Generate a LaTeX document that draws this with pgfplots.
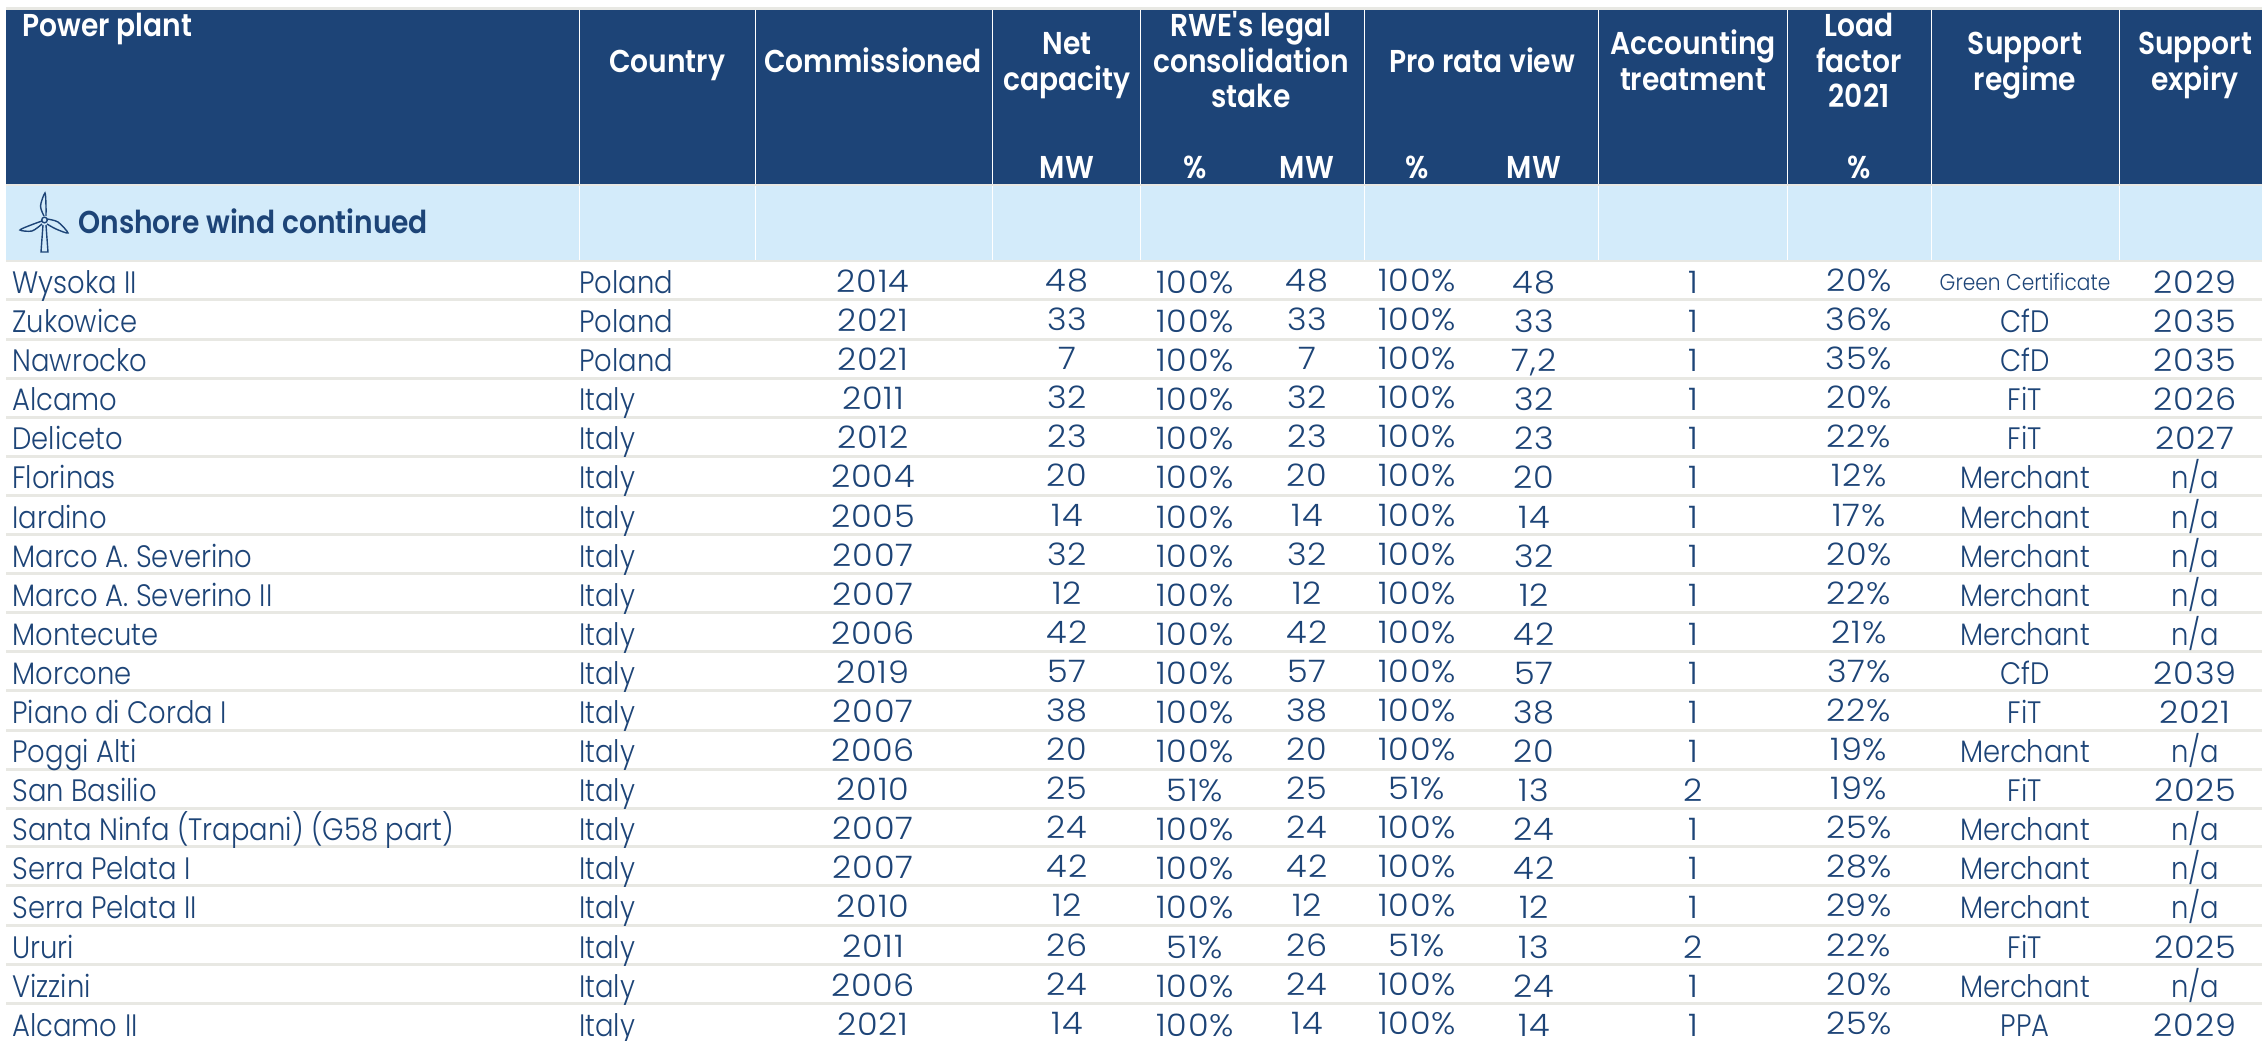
\documentclass[border=0pt]{standalone}
\usepackage{fontspec}
\setmainfont{Poppins Light}[FakeStretch=0.885]
\newfontfamily\hdfont{Poppins SemiBold}[FakeStretch=0.89]
\newfontfamily\numfont{Poppins Light}[FakeStretch=1.08,LetterSpace=2.5]
\usepackage{pgfplots}
\usepackage{pgfplotstable}
\pgfplotsset{compat=1.18}

\definecolor{navy}{HTML}{1D4477}
\definecolor{pale}{HTML}{D3EBFA}
\definecolor{rule}{HTML}{E8E8E3}

% y is the text baseline of the row, in pixels from the top
\pgfplotstableread[col sep=semicolon]{
y;plant;country;year;net;stake;stakemw;pro;promw;acc;load;regime;expiry
293;Wysoka II;Poland;2014;48;100;48;100;48;1;20;\gc;2029
332;Zukowice;Poland;2021;33;100;33;100;33;1;36;CfD;2035
371;Nawrocko;Poland;2021;7;100;7;100;7,2;1;35;CfD;2035
410;Alcamo;Italy;2011;32;100;32;100;32;1;20;FiT;2026
449;Deliceto;Italy;2012;23;100;23;100;23;1;22;FiT;2027
488;Florinas;Italy;2004;20;100;20;100;20;1;12;Merchant;\na
528;Iardino;Italy;2005;14;100;14;100;14;1;17;Merchant;\na
567;Marco A. Severino;Italy;2007;32;100;32;100;32;1;20;Merchant;\na
606;Marco A. Severino II;Italy;2007;12;100;12;100;12;1;22;Merchant;\na
645;Montecute;Italy;2006;42;100;42;100;42;1;21;Merchant;\na
684;Morcone;Italy;2019;57;100;57;100;57;1;37;CfD;2039
723;Piano di Corda I;Italy;2007;38;100;38;100;38;1;22;FiT;2021
762;Poggi Alti;Italy;2006;20;100;20;100;20;1;19;Merchant;\na
801;San Basilio;Italy;2010;25;51;25;51;13;2;19;FiT;2025
840;Santa Ninfa (Trapani) (G58 part);Italy;2007;24;100;24;100;24;1;25;Merchant;\na
879;Serra Pelata I;Italy;2007;42;100;42;100;42;1;28;Merchant;\na
918;Serra Pelata II;Italy;2010;12;100;12;100;12;1;29;Merchant;\na
958;Ururi;Italy;2011;26;51;26;51;13;2;22;FiT;2025
997;Vizzini;Italy;2006;24;100;24;100;24;1;20;Merchant;\na
1036;Alcamo II;Italy;2021;14;100;14;100;14;1;25;PPA;2029
}\rows

\newcommand{\gc}{\raisebox{1.5pt}{\fontsize{11.4}{12}\selectfont Green Certificate}}
\newcommand{\na}{{\normalfont n/a}}
\newcommand{\bodyfont}{\fontsize{15.5}{15.5}\selectfont}
\newcommand{\headfont}{\hdfont\fontsize{15.8}{15.8}\selectfont}

% x, y shift, column, anchor, text of the node
\newcommand{\col}[5]{\addplot[only marks, mark=none, text=navy,
    nodes near coords={#5},
    every node near coord/.append style={anchor=#4, inner sep=0pt, font=\bodyfont, text=navy}]
    table[x expr=#1, y expr=\thisrow{y}+#2, meta=#3] {\rows};}

\begin{document}
\begin{tikzpicture}
\path[use as bounding box, clip] (0,0) rectangle (1131pt,520pt);
\begin{axis}[
    at={(0,0)}, anchor=south west,
    scale only axis, width=1131pt, height=520pt,
    xmin=0, xmax=2262, ymin=0, ymax=1040, y dir=reverse,
    hide axis, clip=false,
    point meta=explicit symbolic,
]
% bands
\addplot[fill=rule, draw=none] coordinates {(6,7) (2262,7) (2262,262) (6,262)} --cycle;
\addplot[fill=navy, draw=none] coordinates {(6,10) (2262,10) (2262,184) (6,184)} --cycle;
\addplot[fill=pale, draw=none] coordinates {(6,186) (2262,186) (2262,260) (6,260)} --cycle;

% row rules
\addplot[rule, line width=1.5pt, forget plot] coordinates {(6,299) (2262,299)};
\addplot[rule, line width=1.5pt, forget plot] coordinates {(6,339) (2262,339)};
\addplot[rule, line width=1.5pt, forget plot] coordinates {(6,378) (2262,378)};
\addplot[rule, line width=1.5pt, forget plot] coordinates {(6,417) (2262,417)};
\addplot[rule, line width=1.5pt, forget plot] coordinates {(6,456) (2262,456)};
\addplot[rule, line width=1.5pt, forget plot] coordinates {(6,495) (2262,495)};
\addplot[rule, line width=1.5pt, forget plot] coordinates {(6,534) (2262,534)};
\addplot[rule, line width=1.5pt, forget plot] coordinates {(6,573) (2262,573)};
\addplot[rule, line width=1.5pt, forget plot] coordinates {(6,612) (2262,612)};
\addplot[rule, line width=1.5pt, forget plot] coordinates {(6,651) (2262,651)};
\addplot[rule, line width=1.5pt, forget plot] coordinates {(6,690) (2262,690)};
\addplot[rule, line width=1.5pt, forget plot] coordinates {(6,730) (2262,730)};
\addplot[rule, line width=1.5pt, forget plot] coordinates {(6,769) (2262,769)};
\addplot[rule, line width=1.5pt, forget plot] coordinates {(6,808) (2262,808)};
\addplot[rule, line width=1.5pt, forget plot] coordinates {(6,846) (2262,846)};
\addplot[rule, line width=1.5pt, forget plot] coordinates {(6,885) (2262,885)};
\addplot[rule, line width=1.5pt, forget plot] coordinates {(6,925) (2262,925)};
\addplot[rule, line width=1.5pt, forget plot] coordinates {(6,964) (2262,964)};
\addplot[rule, line width=1.5pt, forget plot] coordinates {(6,1003) (2262,1003)};

% column rules in the header and the section row
\addplot[white, line width=0.5pt] coordinates {(579,10) (579,184)};
\addplot[white, line width=0.5pt] coordinates {(755,10) (755,184)};
\addplot[white, line width=0.5pt] coordinates {(992,10) (992,184)};
\addplot[white, line width=0.5pt] coordinates {(1140,10) (1140,184)};
\addplot[white, line width=0.5pt] coordinates {(1364,10) (1364,184)};
\addplot[white, line width=0.5pt] coordinates {(1598,10) (1598,184)};
\addplot[white, line width=0.5pt] coordinates {(1787,10) (1787,184)};
\addplot[white, line width=0.5pt] coordinates {(1931,10) (1931,184)};
\addplot[white, line width=0.5pt] coordinates {(2119,10) (2119,184)};
\addplot[white, line width=0.5pt] coordinates {(579,186) (579,260)};
\addplot[white, line width=0.5pt] coordinates {(755,186) (755,260)};
\addplot[white, line width=0.5pt] coordinates {(992,186) (992,260)};
\addplot[white, line width=0.5pt] coordinates {(1140,186) (1140,260)};
\addplot[white, line width=0.5pt] coordinates {(1364,186) (1364,260)};
\addplot[white, line width=0.5pt] coordinates {(1598,186) (1598,260)};
\addplot[white, line width=0.5pt] coordinates {(1787,186) (1787,260)};
\addplot[white, line width=0.5pt] coordinates {(1931,186) (1931,260)};
\addplot[white, line width=0.5pt] coordinates {(2119,186) (2119,260)};

% header text
\addplot[only marks, mark=none, nodes near coords,
    every node near coord/.append style={anchor=base west, inner sep=0pt, font=\headfont, text=white}]
    coordinates {(22,36) [Power plant]};
\addplot[only marks, mark=none, nodes near coords,
    every node near coord/.append style={anchor=base, inner sep=0pt, font=\headfont, text=white}]
    coordinates {
    (667,72) [Country]
    (873,72) [Commissioned]
    (1067,54) [Net]
    (1067,90) [capacity]
    (1067,178) [MW]
    (1251,36) [RWE's legal]
    (1251,72) [consolidation]
    (1251,107) [stake]
    (1195,178) [\%]
    (1307,178) [MW]
    (1482,72) [Pro rata view]
    (1417,178) [\%]
    (1534,178) [MW]
    (1693,54) [Accounting]
    (1693,90) [treatment]
    (1859,36) [Load]
    (1859,72) [factor]
    (1859,107) [2021]
    (1859,178) [\%]
    (2025,54) [Support]
    (2025,90) [regime]
    (2195,54) [Support]
    (2195,90) [expiry]
    };

% section row
\addplot[only marks, mark=none, nodes near coords,
    every node near coord/.append style={anchor=base west, inner sep=0pt, font=\headfont, text=navy}]
    coordinates {(78,233) [Onshore wind continued]};
% turbine icon
\addplot[navy, line width=0.7pt, smooth] coordinates {(44,216) (40.5,206) (45,193) (46,206) (46,216)};
\addplot[navy, line width=0.7pt, smooth] coordinates {(42,221) (31,225) (20,230) (32,231) (42,224)};
\addplot[navy, line width=0.7pt, smooth] coordinates {(47,219) (58,222) (68,233) (56,229) (47,224)};
\addplot[navy, line width=0.7pt] coordinates {(43,225) (41,252) (48,252) (46,225)};
\addplot[navy, line width=0.7pt, only marks, mark=o, mark size=1.4pt, mark options={fill=none}] coordinates {(44.5,220)};

% table body
\col{12}{0}{plant}{base west}{\pgfplotspointmeta}
\col{579}{0}{country}{base west}{\pgfplotspointmeta}
\col{873}{-1}{year}{base}{\numfont\pgfplotspointmeta}
\col{1067}{-2}{net}{base}{\numfont\pgfplotspointmeta}
\col{1195}{0}{stake}{base}{\numfont\pgfplotspointmeta\%}
\col{1307}{-2}{stakemw}{base}{\numfont\pgfplotspointmeta}
\col{1417}{-2}{pro}{base}{\numfont\pgfplotspointmeta\%}
\col{1534}{0}{promw}{base}{\numfont\pgfplotspointmeta}
\col{1693}{0}{acc}{base}{\numfont\pgfplotspointmeta}
\col{1859}{-2}{load}{base}{\numfont\pgfplotspointmeta\%}
\col{2025}{0}{regime}{base}{\pgfplotspointmeta}
\col{2195}{0}{expiry}{base}{\numfont\pgfplotspointmeta}
\end{axis}
\end{tikzpicture}
\end{document}
